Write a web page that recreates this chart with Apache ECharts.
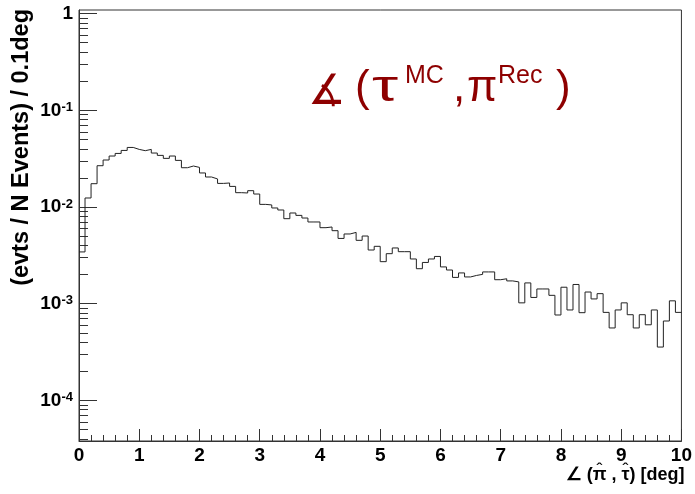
<!DOCTYPE html>
<html><head><meta charset="utf-8">
<script src="https://cdn.jsdelivr.net/npm/echarts@6/dist/echarts.min.js"></script>
<style>html,body{margin:0;padding:0;background:#fff}#c{width:695px;height:494px}</style>
</head><body><div id="c"></div>
<script>
// Bin lower edges (deg), 0.1 deg bins
const binLowEdges = [0.0,0.1,0.2,0.3,0.4,0.5,0.6,0.7,0.8,0.9,1.0,1.1,1.2,1.3,1.4,1.5,1.6,1.7,1.8,1.9,
  2.0,2.1,2.2,2.3,2.4,2.5,2.6,2.7,2.8,2.9,3.0,3.1,3.2,3.3,3.4,3.5,3.6,3.7,3.8,3.9,
  4.0,4.1,4.2,4.3,4.4,4.5,4.6,4.7,4.8,4.9,5.0,5.1,5.2,5.3,5.4,5.5,5.6,5.7,5.8,5.9,
  6.0,6.1,6.2,6.3,6.4,6.5,6.6,6.7,6.8,6.9,7.0,7.1,7.2,7.3,7.4,7.5,7.6,7.7,7.8,7.9,
  8.0,8.1,8.2,8.3,8.4,8.5,8.6,8.7,8.8,8.9,9.0,9.1,9.2,9.3,9.4,9.5,9.6,9.7,9.8,9.9];
const binUpperEdge = 10.0;
// evts / N events per bin
const binValues = [0.00343,0.01239,0.01742,0.02673,0.03062,0.03367,0.03581,0.03846,0.0413,0.03942,
  0.03822,0.03942,0.03614,0.03418,0.03184,0.03367,0.03034,0.02548,0.02653,0.02569,
  0.02249,0.02043,0.0195,0.01754,0.01771,0.01633,0.01406,0.01396,0.01475,0.01362,
  0.01064,0.0105,0.00977,0.00931,0.00757,0.00867,0.00819,0.00769,0.0070,0.0070,
  0.00611,0.00621,0.00569,0.00473,0.00526,0.00546,0.00452,0.00501,0.00359,0.00392,
  0.00272,0.00329,0.00377,0.00345,0.00345,0.0029,0.0023,0.00267,0.0029,0.00308,
  0.0024,0.00223,0.00187,0.00208,0.00189,0.00196,0.00201,0.00213,0.00213,0.00177,
  0.00181,0.00172,0.00168,0.00102,0.00164,0.00116,0.00142,0.00142,0.00122,0.000764,
  0.00148,0.000861,0.00158,0.000807,0.00132,0.00112,0.00127,0.000813,0.000561,0.000861,
  0.00102,0.000769,0.000561,0.000769,0.000605,0.000861,0.000356,0.000662,0.00107,0.000813];
const yMajorTicks = [1e-4,1e-3,1e-2,1e-1,1];
const yMinorTicks = [4e-5,5e-5,6e-5,7e-5,8e-5,9e-5,
  2e-4,3e-4,4e-4,5e-4,6e-4,7e-4,8e-4,9e-4,
  2e-3,3e-3,4e-3,5e-3,6e-3,7e-3,8e-3,9e-3,
  2e-2,3e-2,4e-2,5e-2,6e-2,7e-2,8e-2,9e-2,
  0.2,0.3,0.4,0.5,0.6,0.7,0.8,0.9];
const yMin = 3.8e-5, yMax = 1.09;
const xMin = 0, xMax = 10;
const xTitle = '\u2220 (\u03C0 , \u03C4) [deg]';
const yTitle = '(evts / N Events) / 0.1deg';

const FONT = 'Liberation Sans, Arial, Helvetica, sans-serif';
const RED = '#8e0000';

const stepData = binLowEdges.map((x, i) => [x, binValues[i]]);
stepData.push([binUpperEdge, binValues[binValues.length - 1]]);

const chart = echarts.init(document.getElementById('c'), null, {renderer: 'canvas'});
const axisCol = '#333';
function yLabel(v) {
  const e = Math.round(Math.log10(v));
  return e === 0 ? '{b|1}' : '{b|10}{s|' + e + '}';
}
const big = 44, sup = 25;
function t(text, x, baseline, size, opts) {
  opts = opts || {};
  return {type: 'text', x: x, y: baseline - 0.3465 * size, scaleX: opts.sx || 1,
    style: {text: text, fill: opts.fill || RED, font: (opts.weight ? opts.weight + ' ' : '') + size + 'px ' + (opts.family || FONT),
      align: opts.align || 'left', verticalAlign: 'middle'}};
}
// x-axis title with hats placed over pi and tau
const xtSize = 18, xtBase = 481.5, xtRight = 684.5;
const mctx = document.createElement('canvas').getContext('2d');
mctx.font = 'bold ' + xtSize + 'px ' + FONT;
const wAll = mctx.measureText(xTitle).width;
const x0 = xtRight - wAll;
const piC = x0 + mctx.measureText('\u2220 (').width + mctx.measureText('\u03C0').width / 2;
const tauC = x0 + mctx.measureText('\u2220 (\u03C0 , ').width + mctx.measureText('\u03C4').width / 2;

chart.setOption({
  animation: false,
  backgroundColor: '#fff',
  grid: {left: 79, right: 10.5, top: 10, bottom: 53, show: true, borderColor: axisCol, borderWidth: 1, backgroundColor: 'transparent'},
  xAxis: {
    type: 'value', min: xMin, max: xMax, interval: 1,
    axisLine: {lineStyle: {color: axisCol, width: 1}},
    axisTick: {inside: true, length: 12, lineStyle: {color: axisCol}},
    minorTick: {show: true, splitNumber: 5, length: 6, lineStyle: {color: axisCol}},
    splitLine: {show: false},
    axisLabel: {color: '#000', fontFamily: FONT, fontWeight: 'bold', fontSize: 19, margin: 5, showMinLabel: true, showMaxLabel: true}
  },
  yAxis: [{
    type: 'log', logBase: 10, min: yMin, max: yMax,
    axisLine: {lineStyle: {color: axisCol, width: 1}},
    axisTick: {inside: true, length: 18, customValues: yMajorTicks, lineStyle: {color: axisCol}},
    minorTick: {show: false},
    splitLine: {show: false},
    axisLabel: {customValues: yMajorTicks, margin: 6, formatter: yLabel,
      rich: {
        b: {fontFamily: FONT, fontWeight: 'bold', fontSize: 19, color: '#000'},
        s: {fontFamily: FONT, fontWeight: 'bold', fontSize: 13, color: '#000', verticalAlign: 'top'}
      }}
  }, {
    type: 'log', logBase: 10, min: yMin, max: yMax, position: 'left',
    axisLine: {show: false},
    axisTick: {inside: true, length: 9, customValues: yMinorTicks, lineStyle: {color: axisCol}},
    axisLabel: {show: false},
    splitLine: {show: false},
    minorTick: {show: false}
  }],
  graphic: [
    {type: 'text', x: 22, y: 9, rotation: Math.PI / 2,
     style: {text: yTitle, fill: '#000', font: 'bold 23.5px ' + FONT, align: 'right', verticalAlign: 'middle'}},
    t(xTitle, xtRight, xtBase, xtSize, {fill: '#000', weight: 'bold', align: 'right'}),
    t('\u02C6', piC, xtBase - 4, xtSize, {fill: '#000', align: 'center'}),
    t('\u02C6', tauC, xtBase - 4, xtSize, {fill: '#000', align: 'center'}),
    t('\u2221', 308, 108, 42, {family: 'DejaVu Sans, sans-serif'}),
    t('(', 355, 104, big),
    t('\u03C4', 372, 104, big, {sx: 1.5}),
    t('MC', 405, 85, sup),
    t(',', 453, 104, big),
    t('\u03C0', 467, 104, big),
    t('Rec', 498, 85, sup),
    t(')', 556, 104, big)
  ],
  series: [{
    type: 'line', step: 'end', data: stepData, yAxisIndex: 0,
    showSymbol: false, symbol: 'none',
    lineStyle: {color: '#222', width: 1}, clip: true
  }]
});
</script>
</body></html>
